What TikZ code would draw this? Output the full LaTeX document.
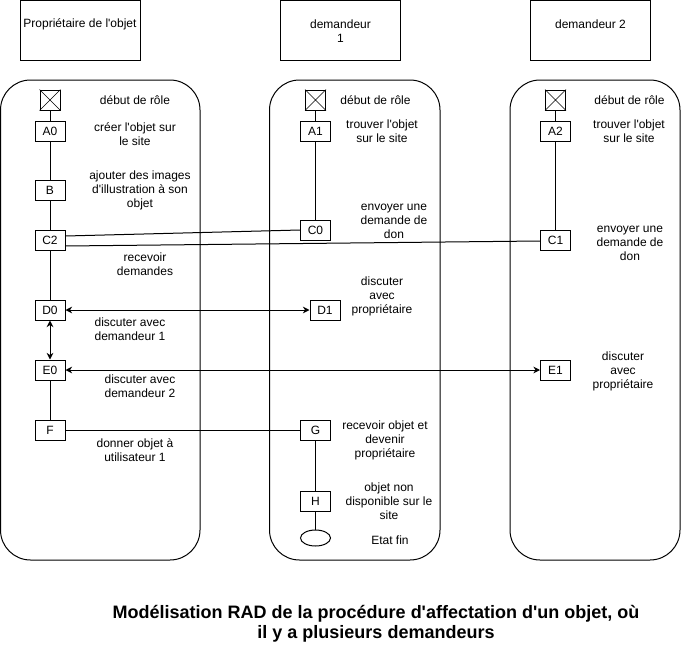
\documentclass[tikz,border=0pt]{standalone}
\usepackage{fontspec}
\setmainfont{Liberation Sans}[Ligatures=TeXOff]
\usetikzlibrary{arrows.meta,shapes.geometric}
\begin{document}
\begin{tikzpicture}[x=0.75pt,y=-0.75pt,
  line width=0.75pt,
  lbl/.style={align=center,font=\fontsize{9}{10.5}\selectfont,inner sep=0},
  act/.style={draw,minimum width=22.5pt,minimum height=15pt,inner sep=0,font=\fontsize{9}{10.5}\selectfont},
  startbox/.style={draw,minimum size=15pt,inner sep=0},
  hdr/.style={draw,minimum width=90pt,minimum height=45pt,inner sep=0},
  lane/.style={draw,rounded corners=22.5pt},
  cross/.style={line width=0.5pt},
  endstate/.style={draw,ellipse,minimum width=22.5pt,minimum height=12pt,inner sep=0},
  biarrow/.style={{Stealth[length=5pt,width=5pt]}-{Stealth[length=5pt,width=5pt]}},
  title/.style={align=center,font=\fontsize{13.5}{15}\selectfont\bfseries,inner sep=0}
]
\useasboundingbox (0,0) rectangle (682,646);

% headers
\node[hdr] (h1) at (80,30) {};
\node[lbl] (h1t) at (80,24) {Propriétaire de l'objet};
\node[hdr] (h2) at (340.5,30) {};
\node[lbl] (h2t) at (340.5,31) {demandeur\\1};
\node[hdr] (h3) at (590.5,30) {};
\node[lbl] (h3t) at (590.5,24) {demandeur 2};

% lanes
\draw[lane] (0.5,80) rectangle (200,560);
\draw[lane] (269.5,80) rectangle (440,560);
\draw[lane] (510,80) rectangle (680,560);

% lane 1
\node[startbox] (s1) at (50,100) {};
\draw[cross] (s1.north west) -- (s1.south east) (s1.north east) -- (s1.south west);
\node[act] (a0) at (50,131) {A0};
\node[act] (b) at (50,190) {B};
\node[act] (c2) at (50,240) {C2};
\node[act] (d0) at (50,310) {D0};
\node[act] (e0) at (50,370) {E0};
\node[act] (f) at (50,430) {F};

\node[lbl] (l1a) at (135,100) {début de rôle};
\node[lbl] (l1b) at (135,134) {créer l'objet sur\\le site};
\node[lbl] (l1c) at (140,190) {ajouter des images\\d'illustration à son\\objet};
\node[lbl] (l1d) at (145,264) {recevoir\\demandes};
\node[lbl] (l1e) at (130,329) {discuter avec\\demandeur 1};
\node[lbl] (l1f) at (140,386) {discuter avec\\demandeur 2};
\node[lbl] (l1g) at (135,450) {donner objet à\\utilisateur 1};

% lane 2
\node[startbox] (s2) at (315.5,100) {};
\draw[cross] (s2.north west) -- (s2.south east) (s2.north east) -- (s2.south west);
\node[act] (a1) at (315.5,131) {A1};
\node[act] (c0) at (315.5,230) {C0};
\node[act] (d1) at (325,310) {D1};
\node[act] (g) at (315.5,430) {G};
\node[act] (hh) at (315.5,501) {H};
\node[endstate] (fin) at (315.5,538) {};

\node[lbl] (l2a) at (375.5,100) {début de rôle};
\node[lbl] (l2b) at (382,131) {trouver l'objet\\sur le site};
\node[lbl] (l2c) at (394,221) {envoyer une\\demande de\\don};
\node[lbl] (l2d) at (382,296) {discuter\\avec\\propriétaire};
\node[lbl] (l2e) at (385,440) {recevoir objet et\\devenir\\propriétaire};
\node[lbl] (l2f) at (389,501) {objet non\\disponible sur le\\site};
\node[lbl] (l2g) at (390,540) {Etat fin};

% lane 3
\node[startbox] (s3) at (555.5,100) {};
\draw[cross] (s3.north west) -- (s3.south east) (s3.north east) -- (s3.south west);
\node[act] (a2) at (555.5,131) {A2};
\node[act] (c1) at (555.5,240) {C1};
\node[act] (e1) at (555.5,370) {E1};

\node[lbl] (l3a) at (629.5,100) {début de rôle};
\node[lbl] (l3b) at (629,131) {trouver l'objet\\sur le site};
\node[lbl] (l3c) at (630,243) {envoyer une\\demande de\\don};
\node[lbl] (l3d) at (623,371) {discuter\\avec\\propriétaire};

% vertical connectors
\draw (s1) -- (a0);
\draw (a0) -- (b);
\draw (b) -- (c2);
\draw (c2) -- (d0);
\draw (e0) -- (f);
\draw (s2) -- (a1);
\draw (a1) -- (c0);
\draw (g) -- (hh);
\draw (hh) -- (fin);
\draw (s3) -- (a2);
\draw (a2) -- (c1);

% horizontal connectors
\draw ([yshift=3pt]c2.east) -- (c0.west);
\draw ([yshift=-4.5pt]c2.east) -- ([yshift=-0.75pt]c1.west);
\draw[biarrow] (d0) -- (d1);
\draw[biarrow] (d0) -- (e0);
\draw[biarrow] (e0) -- (e1);
\draw (f) -- (g);

% title
\node[title] (ttl) at (376,624) {Modélisation RAD de la procédure d'affectation d'un objet, où\\il y a plusieurs demandeurs};
\end{tikzpicture}
\end{document}
